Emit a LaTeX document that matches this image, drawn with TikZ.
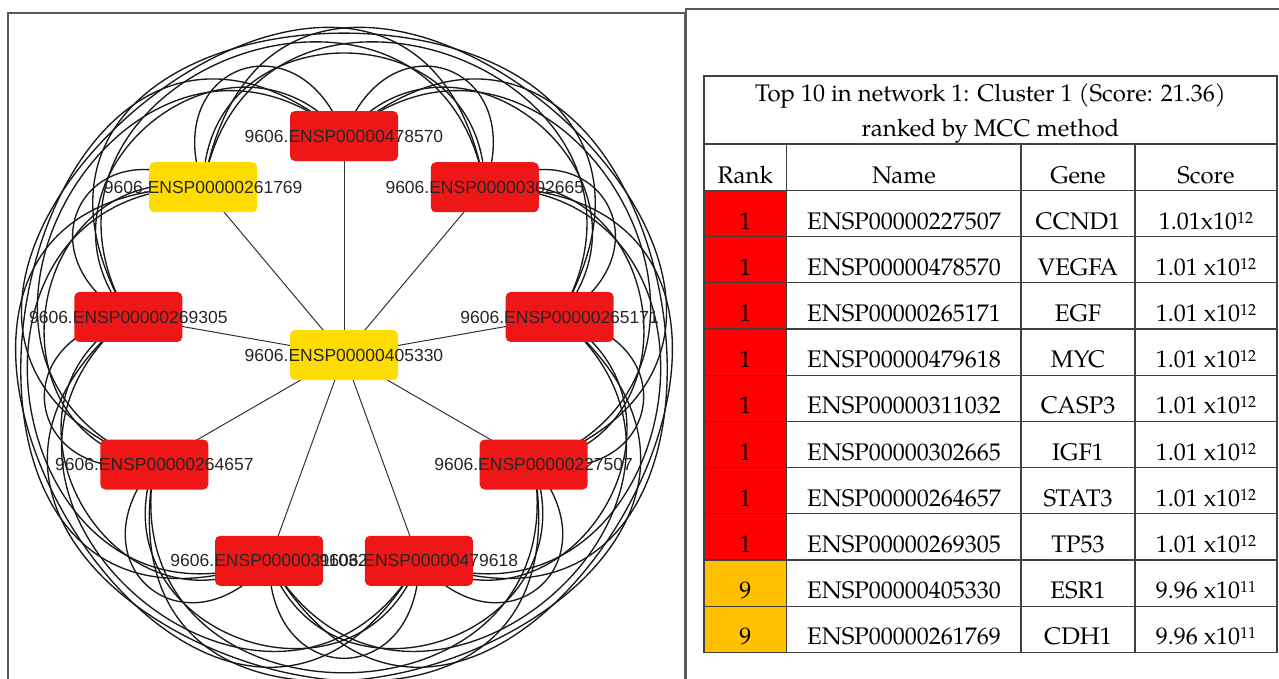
\documentclass[tikz,border=0pt]{standalone}
\usepackage{fontspec}
\newfontfamily\netfont{Liberation Sans}
\newfontfamily\tabfont{texgyrepagella-regular.otf}
\definecolor{netred}{RGB}{238,22,22}
\definecolor{netyellow}{RGB}{255,220,0}
\definecolor{tabred}{RGB}{255,0,0}
\definecolor{taborange}{RGB}{255,192,0}
\newcommand{\supx}[1]{\raisebox{6pt}{\fontsize{16}{16}\selectfont #1}}
\pgfdeclarelayer{edgelayer}
\pgfsetlayers{edgelayer,main}
\begin{document}
\begin{tikzpicture}[x=1pt,y=1pt,
  netbox/.style={rectangle, rounded corners=5pt, minimum width=108pt, minimum height=50pt, inner sep=0pt},
  redbox/.style={netbox, fill=netred},
  yelbox/.style={netbox, fill=netyellow},
  nlabel/.style={font=\netfont\fontsize{17.5}{20}\selectfont, text=black!85, inner sep=0pt},
  arcedge/.style={draw=black!90, line width=1.35pt},
  spoke/.style={draw=black!80, line width=1pt},
  panelframe/.style={draw=black!65, line width=1.3pt},
  tgrid/.style={draw=black!75, line width=1.2pt},
  cell/.style={font=\tabfont\fontsize{24}{35}\selectfont, text=black, inner sep=0pt, anchor=base}
]
\useasboundingbox (0,0) rectangle (1279,-678);
% panel frames
\draw[panelframe] (8,-700) -- (8,-13) -- (685,-13) -- (685,-700);
\draw[panelframe] (686,-700) -- (686,-9) -- (1300,-9);

% ---------------- network ----------------
\begin{scope}[shift={(344,-355)}]
\node[yelbox] (c) at (0,0) {};
\node[redbox] (n0) at (90:219) {};
\node[redbox] (n1) at (50:219) {};
\node[redbox] (n2) at (10:219) {};
\node[redbox] (n3) at (-30:219) {};
\node[redbox] (n4) at (-70:219) {};
\node[redbox] (n5) at (-110:219) {};
\node[redbox] (n6) at (-150:219) {};
\node[redbox] (n7) at (170:219) {};
\node[yelbox] (n8) at (130:219) {};

\node[nlabel] (lc) at (c) {9606.ENSP00000405330};
\node[nlabel] (l0) at (n0) {9606.ENSP00000478570};
\node[nlabel] (l1) at (n1) {9606.ENSP00000302665};
\node[nlabel] (l2) at (n2) {9606.ENSP00000265171};
\node[nlabel] (l3) at (n3) {9606.ENSP00000227507};
\node[nlabel] (l4) at (n4) {9606.ENSP00000479618};
\node[nlabel] (l5) at (n5) {9606.ENSP00000311032};
\node[nlabel] (l6) at (n6) {9606.ENSP00000264657};
\node[nlabel] (l7) at (n7) {9606.ENSP00000269305};
\node[nlabel] (l8) at (n8) {9606.ENSP00000261769};

\begin{pgfonlayer}{edgelayer}
\foreach \i in {0,...,8}{
  \draw[spoke] (c.center) -- (n\i.center);
}
% every pair of outer nodes is joined the short way round
\foreach \s in {0,...,8}{
  \foreach \k/\t/\L in {1/20/130, 2/40/179, 3/50/282, 4/50/437}{
    \pgfmathtruncatemacro\e{mod(\s+\k,9)}
    \pgfmathsetmacro\a{90-40*\s}
    \pgfmathsetmacro\b{\a-40*\k}
    \pgfmathsetmacro\oa{\a-\t}
    \pgfmathsetmacro\ib{\b+\t}
    \draw[arcedge] (n\s.center) to[out=\oa, in=\ib, distance=\L pt] (n\e.center);
  }
}
\end{pgfonlayer}
\end{scope}

% ---------------- table ----------------
\fill[tabred] (704,-190.5) rectangle (786.7,-559.9);
\fill[taborange] (704,-559.9) rectangle (786.7,-652.3);
\draw[tgrid] (704,-76) rectangle (1277,-652.3);
\draw[tgrid] (704,-144) -- (1277,-144);
\foreach \j in {0,...,9}{
  \pgfmathsetmacro\yy{-(190.5+46.18*\j)}
  \draw[tgrid] (704,\yy) -- (1277,\yy);
}
\foreach \x in {786.7,1021,1135}{
  \draw[tgrid] (\x,-144) -- (\x,-652.3);
}
\node[cell] (t1) at (990.5,-101.7) {Top 10 in network 1: Cluster 1 (Score: 21.36)};
\node[cell] (t2) at (990.5,-136.5) {ranked by MCC method};
\node[cell] (hr) at (745.3,-183) {Rank};
\node[cell] (hn) at (904,-183) {Name};
\node[cell] (hg) at (1078,-183) {Gene};
\node[cell] (hs) at (1206,-183) {Score};
\foreach \rk/\nm/\gn/\sc [count=\j] in {
  1/ENSP00000227507/CCND1/{1.01x10\supx{12}},
  1/ENSP00000478570/VEGFA/{1.01 x10\supx{12}},
  1/ENSP00000265171/EGF/{1.01 x10\supx{12}},
  1/ENSP00000479618/MYC/{1.01 x10\supx{12}},
  1/ENSP00000311032/CASP3/{1.01 x10\supx{12}},
  1/ENSP00000302665/IGF1/{1.01 x10\supx{12}},
  1/ENSP00000264657/STAT3/{1.01 x10\supx{12}},
  1/ENSP00000269305/TP53/{1.01 x10\supx{12}},
  9/ENSP00000405330/ESR1/{9.96 x10\supx{11}},
  9/ENSP00000261769/CDH1/{9.96 x10\supx{11}}}{
  \pgfmathsetmacro\yb{-(190.5+46.18*\j)+7.5}
  \node[cell] (r\j a) at (745.3,\yb) {\rk};
  \node[cell] (r\j b) at (904,\yb) {\nm};
  \node[cell] (r\j c) at (1078,\yb) {\gn};
  \node[cell] (r\j d) at (1206,\yb) {\sc};
}
\end{tikzpicture}
\end{document}
